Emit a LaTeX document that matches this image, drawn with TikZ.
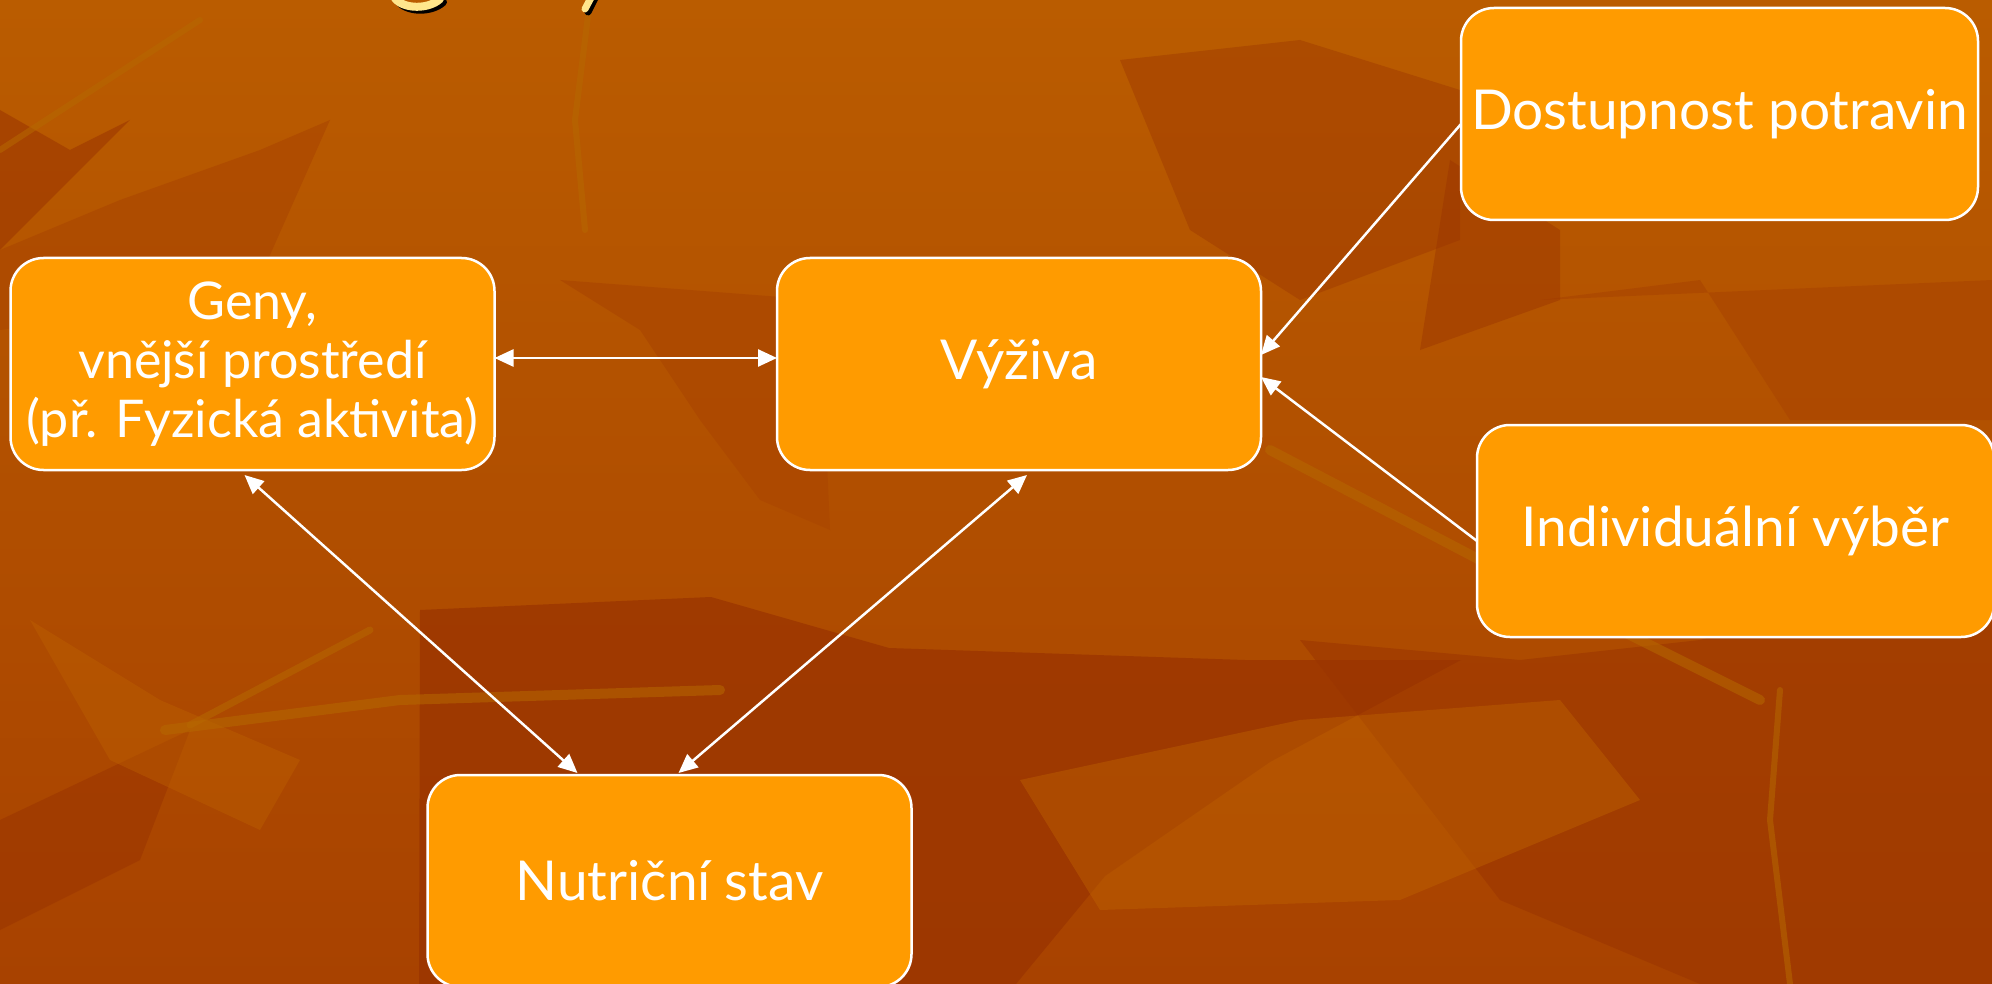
\documentclass[tikz,border=0pt]{standalone}
\usepackage{fontspec}
\setmainfont{Lato}
\usetikzlibrary{arrows.meta,calc}
\definecolor{bgtop}{RGB}{186,92,0}
\definecolor{bgbot}{RGB}{168,66,0}
\definecolor{leafdark}{RGB}{154,52,0}
\definecolor{leafmid}{RGB}{172,72,0}
\definecolor{leaflight}{RGB}{190,98,0}
\definecolor{vein}{RGB}{182,104,0}
\definecolor{boxfill}{RGB}{255,155,0}
\definecolor{titley}{RGB}{255,230,140}
\tikzset{
  box/.style={draw=white, line width=2.5pt, fill=boxfill, rounded corners=33pt,
    inner sep=0pt, outer sep=0pt, text=white, align=center,
    font=\fontsize{55}{59}\selectfont},
  conn/.style={draw=white, line width=2.5pt, -{Triangle[length=19pt,width=17pt]}},
  dconn/.style={draw=white, line width=2.5pt, {Triangle[length=19pt,width=17pt]}-{Triangle[length=19pt,width=17pt]}},
  vein/.style={draw=vein, opacity=0.55, line cap=round, line width=10pt},
}
\begin{document}
\begin{tikzpicture}[x=1pt,y=-1pt]
\useasboundingbox (0,0) rectangle (1992,984);
% background
\shade[top color=bgtop, bottom color=bgbot] (0,0) rectangle (1992,984);
\fill[leafdark,opacity=0.55] (0,110) -- (70,150) -- (130,120) -- (0,250) -- cycle;
\fill[leafmid,opacity=0.7] (0,250) -- (120,200) -- (260,150) -- (330,120) -- (250,300) -- (0,330) -- cycle;
\fill[leafdark,opacity=0.75] (420,610) -- (711,597) -- (889,648) -- (1245,660) -- (1461,660) -- (1270,762) -- (1105,876) -- (1016,984) -- (419,984) -- cycle;
\fill[leafdark,opacity=0.55] (0,820) -- (190,730) -- (140,860) -- (0,930) -- cycle;
\fill[leafmid,opacity=0.8] (560,280) -- (640,330) -- (700,420) -- (760,500) -- (830,530) -- (820,300) -- cycle;
\fill[leafdark,opacity=0.4] (1120,60) -- (1300,40) -- (1460,90) -- (1460,240) -- (1300,300) -- (1190,230) -- cycle;
\fill[leafmid,opacity=0.8] (1540,300) -- (1700,280) -- (1790,420) -- (1992,420) -- (1992,280) -- cycle;
\fill[leafdark,opacity=0.55] (1300,640) -- (1520,660) -- (1700,640) -- (1992,560) -- (1992,984) -- (1700,984) -- (1500,900) -- cycle;
\fill[leafdark,opacity=0.45] (1450,160) -- (1560,230) -- (1560,300) -- (1420,350) -- cycle;
\fill[leaflight,opacity=0.45] (1020,780) -- (1300,720) -- (1560,700) -- (1640,800) -- (1400,900) -- (1100,910) -- cycle;
\fill[leaflight,opacity=0.4] (30,620) -- (160,700) -- (300,760) -- (260,830) -- (110,760) -- cycle;
\draw[vein] (165,730) -- (400,700) -- (720,690);
\draw[vein,line width=7pt] (190,725) -- (370,630);
\draw[vein] (1270,450) -- (1480,560) -- (1760,700);
\draw[vein,line width=6pt] (1780,690) -- (1770,820) -- (1790,984);
\draw[vein,line width=6pt] (590,0) -- (575,120) -- (585,230);
\draw[vein,line width=6pt] (0,150) -- (200,20);
% title fragments
\draw[black,line width=8pt,line cap=round] (396,-4) .. controls (400,12) and (430,14) .. (443,2);
\draw[titley,line width=8pt,line cap=round] (393,-6) .. controls (397,9) and (427,11) .. (440,-1);
\draw[black,line width=7pt,line cap=round] (596,-4) -- (588,12);
\draw[titley,line width=7pt,line cap=round] (593,-6) -- (585,9);
% nodes
\node[box, minimum width=484pt, minimum height=212pt, font=\fontsize{52}{59}\selectfont] (geny) at (252.5,364)
  {Geny,\\vnější prostředí\\(př. Fyzická aktivita)};
\node[box, minimum width=484pt, minimum height=212pt] (vyz) at (1019,364) {Výživa};
\node[box, minimum width=517pt, minimum height=212pt] (dost) at (1719.5,114) {Dostupnost potravin};
\node[box, minimum width=517pt, minimum height=212pt] (indiv) at (1735.5,531) {Individuální výběr};
\node[box, minimum width=484pt, minimum height=212pt] (nutri) at (669.5,881) {Nutriční stav};
% connectors
\draw[dconn] ([shift={(0,-6)}]geny.east) -- ([shift={(0,-6)}]vyz.west);
\draw[conn] ([shift={(0,10)}]dost.west) -- ([shift={(0,-9)}]vyz.east);
\draw[conn] ([shift={(0,10)}]indiv.west) -- ([shift={(0,13)}]vyz.east);
\draw[dconn] ([shift={(234,5)}]geny.south west) -- ([shift={(150,-2)}]nutri.north west);
\draw[dconn] ([shift={(250,5)}]vyz.south west) -- ([shift={(251,-2)}]nutri.north west);
\end{tikzpicture}
\end{document}
